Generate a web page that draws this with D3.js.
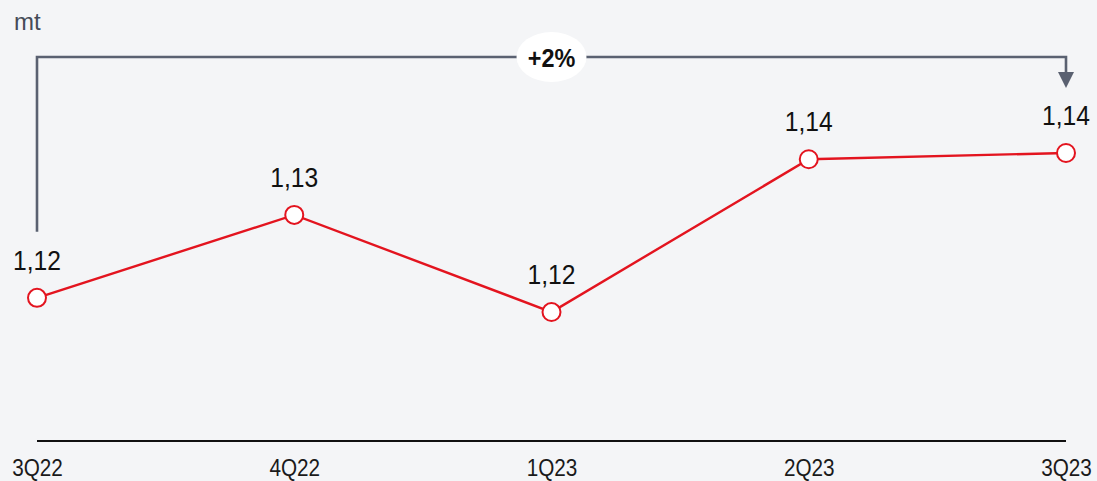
<!DOCTYPE html>
<html>
<head>
<meta charset="utf-8">
<script src="https://cdn.jsdelivr.net/npm/d3@7"></script>
<style>
  html, body { margin: 0; padding: 0; background: #f4f5f7; }
  svg { display: block; }
</style>
</head>
<body>
<svg id="chart" width="1097" height="481"></svg>
<script>
// Quarterly volumes, million tonnes
const quarters = ["3Q22", "4Q22", "1Q23", "2Q23", "3Q23"];
const volumes = [1.1185, 1.1331, 1.116, 1.1429, 1.144];
const unitLabel = "mt";
const changeLabel = "+2%";

const W = 1097, H = 481;
const FONT = "'Liberation Sans', Arial, Helvetica, sans-serif";
const svg = d3.select("#chart");

svg.append("rect").attr("width", W).attr("height", H).attr("fill", "#f4f5f7");

const x = d3.scalePoint().domain(quarters).range([37, 1066]);
const y = d3.scaleLinear().domain([1.0933, 1.144]).range([441, 153]);

const fmt = v => d3.format(".2f")(v).replace(".", ",");

// squeeze text horizontally to a condensed look
function condense(sel, k) {
  sel.each(function () {
    const w = this.getComputedTextLength();
    d3.select(this)
      .attr("textLength", w * k)
      .attr("lengthAdjust", "spacingAndGlyphs");
  });
}

// unit label
svg.append("text")
  .attr("x", 14).attr("y", 30)
  .attr("font-family", FONT)
  .attr("font-size", 24)
  .attr("fill", "#454b57")
  .text(unitLabel);

// baseline
svg.append("line")
  .attr("x1", x(quarters[0])).attr("x2", x(quarters[quarters.length - 1]))
  .attr("y1", 441).attr("y2", 441)
  .attr("stroke", "#111").attr("stroke-width", 2);

// category labels
const xAxis = d3.axisBottom(x).tickSize(0).tickPadding(0);
const gx = svg.append("g").attr("transform", "translate(0,441)").call(xAxis);
gx.select(".domain").remove();
gx.attr("font-family", null).attr("font-size", null);
gx.selectAll("text")
  .attr("font-family", FONT)
  .attr("font-size", 23)
  .attr("fill", "#1a1a1a")
  .attr("dy", null)
  .attr("y", 35)
  .call(condense, 0.9);

// change bracket from first to last quarter
const xa = x(quarters[0]), xb = x(quarters[quarters.length - 1]);
const bracketY = 57;
svg.append("path")
  .attr("d", `M${xa},${y(volumes[0]) - 66} V${bracketY} H${xb} V${74}`)
  .attr("fill", "none")
  .attr("stroke", "#5a6171")
  .attr("stroke-width", 2.6);
svg.append("path")
  .attr("d", `M${xb - 8},${72} L${xb + 8},${72} L${xb},${88} Z`)
  .attr("fill", "#5a6171");

const cx = (xa + xb) / 2;
svg.append("ellipse")
  .attr("cx", cx).attr("cy", bracketY)
  .attr("rx", 35).attr("ry", 25)
  .attr("fill", "#ffffff");
svg.append("text")
  .attr("x", cx).attr("y", bracketY + 10)
  .attr("text-anchor", "middle")
  .attr("font-family", FONT)
  .attr("font-weight", "bold")
  .attr("font-size", 26)
  .attr("fill", "#111")
  .text(changeLabel)
  .call(condense, 0.9);

// line
const line = d3.line().x((d, i) => x(quarters[i])).y(d => y(d));
svg.append("path")
  .datum(volumes)
  .attr("d", line)
  .attr("fill", "none")
  .attr("stroke", "#e3141f")
  .attr("stroke-width", 2.4);

// markers
svg.selectAll("circle.pt")
  .data(volumes)
  .join("circle")
  .attr("class", "pt")
  .attr("cx", (d, i) => x(quarters[i]))
  .attr("cy", d => y(d))
  .attr("r", 9)
  .attr("fill", "#ffffff")
  .attr("stroke", "#e3141f")
  .attr("stroke-width", 2);

// value labels
svg.selectAll("text.val")
  .data(volumes)
  .join("text")
  .attr("class", "val")
  .attr("x", (d, i) => x(quarters[i]))
  .attr("y", d => y(d) - 28)
  .attr("text-anchor", "middle")
  .attr("font-family", FONT)
  .attr("font-size", 28)
  .attr("fill", "#111")
  .text(d => fmt(d))
  .call(condense, 0.88);
</script>
</body>
</html>
